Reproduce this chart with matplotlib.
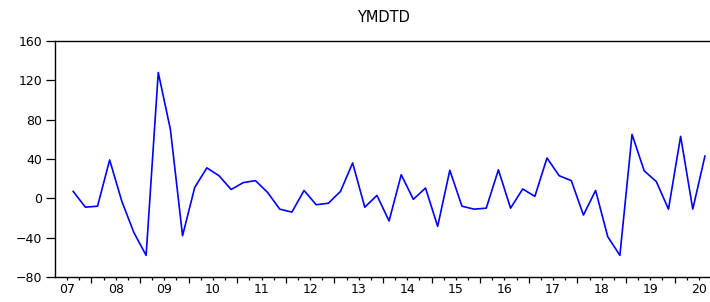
"""EViews-style quarterly line chart of YMDTD."""

import matplotlib

matplotlib.use("Agg")
import matplotlib.pyplot as plt
import pandas as pd

# quarterly observations, 2007Q3 .. 2020Q3
start_quarter = "2007Q3"
end_quarter = "2020Q3"
ymdtd = [
    7, -9, -8, 39, -3, -35, -58, 128, 70, -38,
    11, 31, 23, 9, 16, 18, 6, -11, -14, 8,
    -6.5, -5, 7, 36, -9, 3, -23, 24, -1, 10.5,
    -28.5, 28.5, -8, -11, -10, 29, -10, 9.5, 2, 41,
    23, 18, -17, 8, -39, -58, 65, 28, 17, -11,
    63, -11, 43,
]
years = list(range(2007, 2021))
year_labels = [f"{y % 100:02d}" for y in years]
y_ticks = [-80, -40, 0, 40, 80, 120, 160]

periods = pd.period_range(start_quarter, end_quarter, freq="Q")
# slot index: 2007Q1 -> [0, 1], point drawn in slot centre
x = [(p.year - years[0]) * 4 + (p.quarter - 1) + 0.5 for p in periods]

plt.rcParams["font.family"] = ["DejaVu Sans"]

fig = plt.figure(figsize=(7.10, 3.02), dpi=100)
ax = fig.add_axes([55 / 710, 25 / 302, 656 / 710, 236 / 302])

ax.plot(x, ymdtd, color="#0000ff", linewidth=1.2)

ax.set_xlim(1, 55)
ax.set_ylim(-80, 160)
ax.set_yticks(y_ticks)
ax.tick_params(axis="y", direction="out", length=6.5, width=0.9, pad=2.5,
               labelsize=9)

# year boundaries (long) and quarter boundaries (short), no labels
ax.set_xticks(range(4, 55, 4))
ax.set_xticks([t for t in range(2, 55) if t % 4], minor=True)
ax.tick_params(axis="x", which="major", direction="out", length=4, width=0.9,
               labelbottom=False)
ax.tick_params(axis="x", which="minor", direction="out", length=2.3, width=0.9)

# year labels centred in each year
sec = ax.secondary_xaxis("bottom")
sec.set_xticks([(y - years[0]) * 4 + 2 for y in years])
sec.set_xticklabels(year_labels)
sec.tick_params(length=0, pad=4.5, labelsize=9)
sec.spines["bottom"].set_visible(False)

for side in ("left", "top", "bottom"):
    ax.spines[side].set_linewidth(1.0)
ax.spines["right"].set_visible(False)

ax.set_title("YMDTD", fontsize=10.5, pad=14)

fig.savefig("out.png", dpi=100)
